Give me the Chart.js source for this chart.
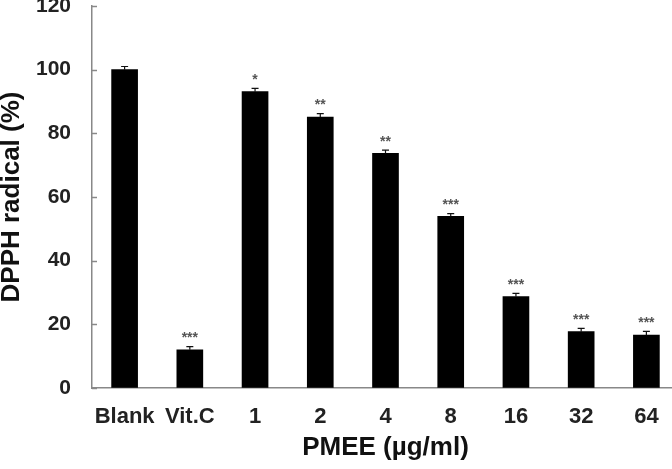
<!DOCTYPE html>
<html>
<head>
<meta charset="utf-8">
<script src="https://cdn.jsdelivr.net/npm/chart.js@4"></script>
<style>
  html, body { margin: 0; padding: 0; background: #fff; overflow: hidden; }
</style>
</head>
<body>
<canvas id="dpphChart" width="679" height="469"></canvas>
<script>
// groups on the x axis and the values
const categories = ['Blank', 'Vit.C', '1', '2', '4', '8', '16', '32', '64'];
const dpphValues = [100, 12, 93.1, 85.1, 73.7, 53.9, 28.7, 17.7, 16.6];
const errValues = [1, 1, 1, 1.1, 1, 0.9, 1, 1, 1.2];
const starLabels = ['', '***', '*', '**', '**', '***', '***', '***', '***'];
const yTicks = [0, 20, 40, 60, 80, 100, 120];

const fontFamily = '"Liberation Sans", Arial, sans-serif';

// draws error bars, significance stars and the inward y tick marks
const extras = {
  id: 'extras',
  afterDatasetsDraw(chart) {
    const ctx = chart.ctx;
    const x = chart.scales.x;
    const y = chart.scales.y;
    ctx.save();

    ctx.strokeStyle = '#888';
    ctx.lineWidth = 1.5;
    yTicks.forEach(v => {
      const py = Math.round(y.getPixelForValue(v)) + 0.5;
      ctx.beginPath();
      ctx.moveTo(chart.chartArea.left, py);
      ctx.lineTo(chart.chartArea.left + 5, py);
      ctx.stroke();
    });

    for (let i = 0; i < categories.length; i++) {
      const px = x.getPixelForValue(i);
      const top = y.getPixelForValue(dpphValues[i] + errValues[i]);
      const base = y.getPixelForValue(dpphValues[i]);
      ctx.strokeStyle = '#111';
      ctx.lineWidth = 1.2;
      ctx.beginPath();
      ctx.moveTo(px, base);
      ctx.lineTo(px, top);
      ctx.moveTo(px - 3.5, top);
      ctx.lineTo(px + 3.5, top);
      ctx.stroke();

      if (starLabels[i]) {
        ctx.fillStyle = '#555';
        ctx.font = 'bold 14px ' + fontFamily;
        ctx.textAlign = 'center';
        ctx.textBaseline = 'middle';
        ctx.fillText(starLabels[i], px, top - 8);
      }
    }
    ctx.restore();
  }
};

new Chart(document.getElementById('dpphChart'), {
  type: 'bar',
  data: {
    labels: categories,
    datasets: [{
      data: dpphValues,
      backgroundColor: '#000',
      borderColor: '#333',
      borderWidth: 0,
      barThickness: 26
    }]
  },
  options: {
    responsive: false,
    devicePixelRatio: 1,
    animation: false,
    layout: { padding: { top: 6, right: 0, left: 0, bottom: 0 } },
    plugins: {
      legend: { display: false },
      tooltip: { enabled: false }
    },
    scales: {
      x: {
        offset: true,
        grid: { display: true, drawOnChartArea: false, drawTicks: false },
        border: { display: true, color: '#888', width: 1.5 },
        ticks: {
          color: '#222',
          font: { family: fontFamily, size: 22, weight: 'bold' },
          padding: 16,
          maxRotation: 0,
          autoSkip: false
        },
        title: {
          display: true,
          text: 'PMEE (µg/ml)',
          color: '#111',
          font: { family: fontFamily, size: 26, weight: 'bold' },
          padding: { top: 0, bottom: 6 }
        },
        afterFit(scale) {
          scale.height = 81;
          scale.paddingLeft = 0;
          scale.paddingRight = 0;
        }
      },
      y: {
        min: 0,
        max: 120,
        grid: { display: true, drawOnChartArea: false, drawTicks: false },
        border: { display: true, color: '#888', width: 1.5 },
        ticks: {
          stepSize: 20,
          color: '#222',
          font: { family: fontFamily, size: 21, weight: 'bold' },
          padding: 21
        },
        title: {
          display: true,
          text: 'DPPH radical (%)',
          color: '#111',
          font: { family: fontFamily, size: 26, weight: 'bold', lineHeight: 1 },
          padding: { top: -1, bottom: 0 }
        },
        afterFit(scale) {
          scale.width = 92;
          scale.paddingTop = 0;
          scale.paddingBottom = 0;
        }
      }
    }
  },
  plugins: [extras]
});
</script>
</body>
</html>
